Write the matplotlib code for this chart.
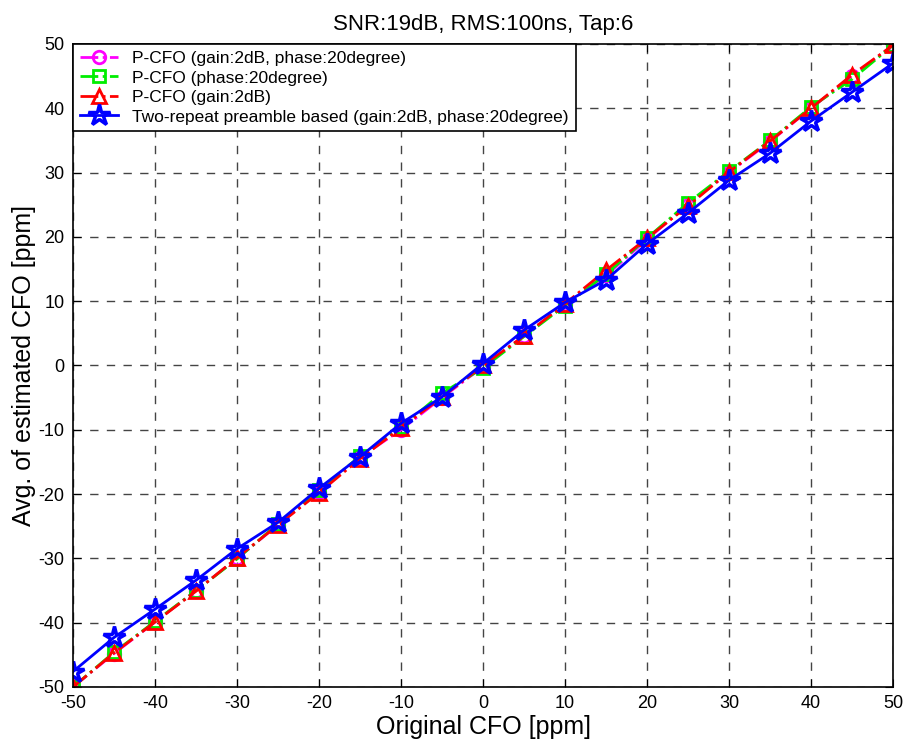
"""
CFO estimation figure: SNR 19dB, RMS 100ns, 6 taps
"""
import matplotlib
matplotlib.use('Agg')
import matplotlib.pyplot as plt
import numpy as np

plt.rcParams['font.family'] = ['Liberation Sans', 'DejaVu Sans']
plt.rcParams['axes.unicode_minus'] = False

# data
cfo_true = [-50, -45, -40, -35, -30, -25, -20, -15, -10, -5, 0, 5, 10, 15, 20, 25, 30, 35, 40, 45, 50]
pcfo_gain_phase = [-50.0, -44.8, -39.9, -35.0, -30.0, -24.8, -19.6, -14.3, -10.0, -5.0, -0.2, 4.6, 9.5, 14.0, 19.6, 25.0, 30.0, 34.8, 40.0, 45.0, 49.8]
pcfo_phase = [-50.0, -44.6, -39.8, -35.0, -30.1, -24.6, -19.4, -14.1, -9.6, -4.3, -0.4, 4.5, 9.3, 14.2, 19.8, 25.3, 30.2, 35.0, 40.2, 44.5, 49.8]
pcfo_gain = [-50.0, -44.7, -39.9, -35.1, -29.9, -24.8, -19.8, -14.5, -9.7, -4.9, 0.0, 4.6, 9.6, 14.8, 19.8, 24.8, 30.1, 34.9, 40.0, 45.2, 49.8]
two_repeat = [-47.6, -42.3, -37.9, -33.4, -28.5, -24.4, -19.1, -14.2, -9.0, -4.9, 0.3, 5.5, 9.8, 13.3, 18.9, 23.7, 28.8, 33.0, 38.0, 42.5, 47.0]

labels = ['P-CFO (gain:2dB, phase:20degree)',
          'P-CFO (phase:20degree)',
          'P-CFO (gain:2dB)',
          'Two-repeat preamble based (gain:2dB, phase:20degree)']


def create_figure():
    fig = plt.figure(figsize=(9.04, 7.49), dpi=100)
    ax = fig.add_axes([0.0808, 0.0828, 0.907, 0.8585])

    ax.plot(cfo_true, pcfo_gain_phase, '-.', color='#ff00ff', marker='o', markersize=9,
            markerfacecolor='none', markeredgewidth=2, linewidth=2, label=labels[0])
    ax.plot(cfo_true, pcfo_phase, '-.', color='#00ee00', marker='s', markersize=9,
            markerfacecolor='none', markeredgewidth=2, linewidth=2, label=labels[1])
    ax.plot(cfo_true, pcfo_gain, '-.', color='#ff0000', marker='^', markersize=10,
            markerfacecolor='none', markeredgewidth=2, linewidth=2, label=labels[2])
    ax.plot(cfo_true, two_repeat, '-', color='#0000ff', marker='*', markersize=16,
            markerfacecolor='none', markeredgewidth=2.5, linewidth=2, label=labels[3])

    ax.set_xlim(-50, 50)
    ax.set_ylim(-50, 50)
    ax.set_xticks(np.arange(-50, 51, 10))
    ax.set_yticks(np.arange(-50, 51, 10))
    ax.tick_params(direction='in', top=True, right=True, labelsize=13, length=6, pad=6)
    ax.grid(True, linestyle=(0, (6, 6)), color='#444444', linewidth=1)
    for sp in ax.spines.values():
        sp.set_linewidth(1.2)

    ax.set_xlabel('Original CFO [ppm]', fontsize=18, labelpad=2)
    ax.set_ylabel('Avg. of estimated CFO [ppm]', fontsize=18, labelpad=2)
    ax.set_title('SNR:19dB, RMS:100ns, Tap:6', fontsize=16, pad=10)

    leg = ax.legend(loc='upper left', fontsize=12.5, fancybox=False, edgecolor='black',
                    framealpha=1, borderaxespad=0.0, handlelength=2.2, borderpad=0.4,
                    labelspacing=0.25)
    leg.get_frame().set_linewidth(1.2)

    fig.savefig('out.png', dpi=100)
    plt.close(fig)


if __name__ == "__main__":
    create_figure()
